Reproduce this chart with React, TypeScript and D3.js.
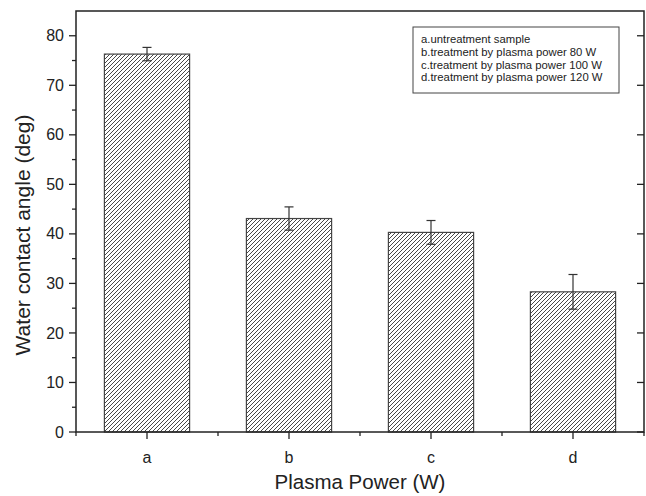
import { useEffect, useRef } from "react";
import * as d3 from "d3";

const categories = ["a", "b", "c", "d"];
const angles = [76.3, 43.1, 40.3, 28.3];
const errors = [1.35, 2.35, 2.4, 3.5];
const yTicks = [0, 10, 20, 30, 40, 50, 60, 70, 80];
const yMinorTicks = [5, 15, 25, 35, 45, 55, 65, 75];
const legendLines = [
  "a.untreatment sample",
  "b.treatment by plasma power 80 W",
  "c.treatment by plasma power 100 W",
  "d.treatment by plasma power 120 W",
];

const FONT = "'Liberation Sans', Arial, sans-serif";

export default function App() {
  const svgRef = useRef<SVGSVGElement>(null);

  useEffect(() => {
    if (!svgRef.current) return;
    const width = 646;
    const height = 496;
    const svg = d3.select(svgRef.current);
    svg.selectAll("*").remove();
    svg.attr("width", width).attr("height", height);

    const left = 76;
    const right = 644;
    const top = 11;
    const bottom = 432;

    const x = d3
      .scaleBand<string>()
      .domain(categories)
      .range([left, right])
      .paddingInner(0.4)
      .paddingOuter(0.2);
    const y = d3.scaleLinear().domain([0, 85]).range([bottom, top]);

    // hatch pattern
    const defs = svg.append("defs");
    const pat = defs
      .append("pattern")
      .attr("id", "hatch")
      .attr("patternUnits", "userSpaceOnUse")
      .attr("width", 4)
      .attr("height", 4);
    pat.append("rect").attr("width", 4).attr("height", 4).attr("fill", "#fff");
    pat
      .append("path")
      .attr("d", "M-1,1 l2,-2 M0,4 l4,-4 M3,5 l2,-2")
      .attr("stroke", "#333")
      .attr("stroke-width", 0.9);

    // bars
    svg
      .append("g")
      .selectAll("rect")
      .data(categories)
      .join("rect")
      .attr("x", (d) => x(d)!)
      .attr("y", (_, i) => y(angles[i]))
      .attr("width", x.bandwidth())
      .attr("height", (_, i) => bottom - y(angles[i]))
      .attr("fill", "url(#hatch)")
      .attr("stroke", "#444")
      .attr("stroke-width", 1.2);

    // error bars
    const eb = svg.append("g").attr("stroke", "#333").attr("stroke-width", 1.2);
    categories.forEach((c, i) => {
      const cx = x(c)! + x.bandwidth() / 2;
      const hi = y(angles[i] + errors[i]);
      const lo = y(angles[i] - errors[i]);
      eb.append("line").attr("x1", cx).attr("x2", cx).attr("y1", hi).attr("y2", lo);
      eb.append("line").attr("x1", cx - 4.5).attr("x2", cx + 4.5).attr("y1", hi).attr("y2", hi);
      eb.append("line").attr("x1", cx - 4.5).attr("x2", cx + 4.5).attr("y1", lo).attr("y2", lo);
    });

    // frame
    const axisColor = "#222";
    svg
      .append("rect")
      .attr("x", left)
      .attr("y", top)
      .attr("width", right - left)
      .attr("height", bottom - top)
      .attr("fill", "none")
      .attr("stroke", axisColor)
      .attr("stroke-width", 1.5);

    const ticks = svg.append("g").attr("stroke", axisColor).attr("stroke-width", 1.3);
    // left axis (outward) and right axis (inward)
    yTicks.forEach((t) => {
      ticks.append("line").attr("x1", left - 7).attr("x2", left).attr("y1", y(t)).attr("y2", y(t));
      ticks.append("line").attr("x1", right - 7).attr("x2", right).attr("y1", y(t)).attr("y2", y(t));
    });
    yMinorTicks.forEach((t) => {
      ticks.append("line").attr("x1", left - 4).attr("x2", left).attr("y1", y(t)).attr("y2", y(t));
    });
    // bottom axis
    categories.forEach((c) => {
      const cx = x(c)! + x.bandwidth() / 2;
      ticks.append("line").attr("x1", cx).attr("x2", cx).attr("y1", bottom).attr("y2", bottom + 7);
    });
    const step = x.step();
    d3.range(categories.length + 1).forEach((i) => {
      const bx = left + i * step;
      ticks.append("line").attr("x1", bx).attr("x2", bx).attr("y1", bottom).attr("y2", bottom + 4);
    });

    // tick labels
    svg
      .append("g")
      .selectAll("text")
      .data(yTicks)
      .join("text")
      .attr("x", left - 12)
      .attr("y", (d) => y(d))
      .attr("dy", "0.35em")
      .attr("text-anchor", "end")
      .attr("font-family", FONT)
      .attr("font-size", 16)
      .attr("fill", "#222")
      .text((d) => d);

    svg
      .append("g")
      .selectAll("text")
      .data(categories)
      .join("text")
      .attr("x", (d) => x(d)! + x.bandwidth() / 2)
      .attr("y", bottom + 25)
      .attr("dy", "0.35em")
      .attr("text-anchor", "middle")
      .attr("font-family", FONT)
      .attr("font-size", 16)
      .attr("fill", "#222")
      .text((d) => d);

    // axis titles
    svg
      .append("text")
      .attr("x", (left + right) / 2)
      .attr("y", 482)
      .attr("dy", "0.35em")
      .attr("text-anchor", "middle")
      .attr("font-family", FONT)
      .attr("font-size", 20.5)
      .attr("fill", "#222")
      .text("Plasma Power (W)");

    svg
      .append("text")
      .attr("transform", "translate(23,235) rotate(-90)")
      .attr("dy", "0.35em")
      .attr("text-anchor", "middle")
      .attr("font-family", FONT)
      .attr("font-size", 21)
      .attr("fill", "#222")
      .text("Water contact angle (deg)");

    // legend
    const lg = svg.append("g");
    lg.append("rect")
      .attr("x", 413)
      .attr("y", 27)
      .attr("width", 206)
      .attr("height", 66)
      .attr("fill", "#fff")
      .attr("stroke", "#444")
      .attr("stroke-width", 1);
    lg.selectAll("text")
      .data(legendLines)
      .join("text")
      .attr("x", 421)
      .attr("y", (_, i) => 39.5 + i * 12.6)
      .attr("dy", "0.35em")
      .attr("font-family", FONT)
      .attr("font-size", 11.3)
      .attr("fill", "#222")
      .text((d) => d);
  }, []);

  return <svg ref={svgRef} style={{ position: "absolute", left: 0, top: 0 }} />;
}
